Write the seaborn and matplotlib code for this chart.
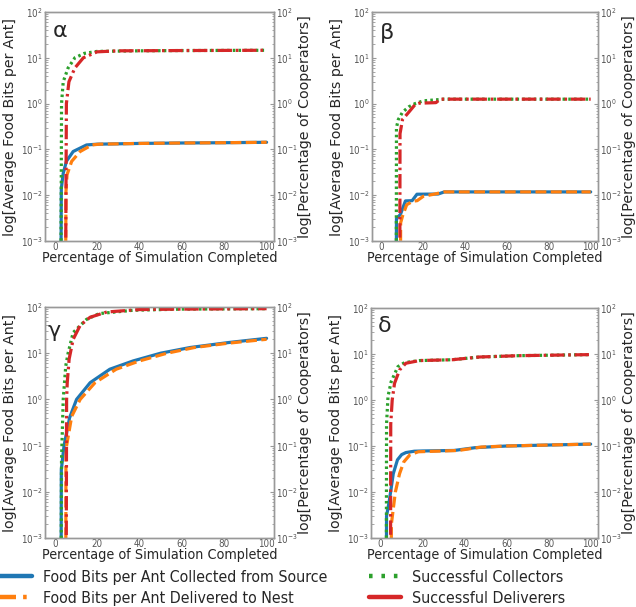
import matplotlib
matplotlib.use("Agg")
import matplotlib.pyplot as plt
from matplotlib.lines import Line2D
import seaborn as sns
import pandas as pd

# ---------------- data ----------------
panel_labels = ["α", "β", "γ", "δ"]
series_names = ["Food Bits per Ant Collected from Source",
                "Food Bits per Ant Delivered to Nest",
                "Successful Collectors",
                "Successful Deliverers"]

# alpha
a_col_x = [2.9, 3.1, 4.0, 5.5, 8.7, 15, 20, 40, 60, 80, 100]
a_col_y = [1e-4, 0.014, 0.03, 0.055, 0.09, 0.125, 0.13, 0.135, 0.138, 0.14, 0.143]
a_del_x = [5.1, 5.3, 5.8, 8, 12, 17.5, 21, 40, 60, 80, 100]
a_del_y = [1e-4, 0.012, 0.028, 0.055, 0.09, 0.125, 0.13, 0.135, 0.138, 0.14, 0.143]
a_sc_x = [2.9, 3.2, 4.0, 6.3, 9.5, 14, 20, 40, 60, 80, 100]
a_sc_y = [1e-4, 1.0, 3.0, 6.0, 10, 12.5, 13.8, 14.2, 14.4, 14.5, 14.6]
a_sd_x = [5.1, 5.5, 6.7, 9.5, 13.5, 20, 30, 60, 100]
a_sd_y = [1e-4, 1.0, 3.0, 6.0, 10, 13.5, 14.2, 14.4, 14.6]

# beta
b_col_x = [7.0, 7.1, 9.0, 11.4, 14.6, 16.9, 27, 30, 60, 100]
b_col_y = [1e-4, 0.0031, 0.0038, 0.0075, 0.0076, 0.0105, 0.0106, 0.0118, 0.0118, 0.0118]
b_del_x = [9.0, 9.1, 10.0, 12.0, 15.0, 17.0, 20.0, 25.0, 30, 60, 100]
b_del_y = [1e-4, 0.0025, 0.0035, 0.0062, 0.0074, 0.0076, 0.0095, 0.0105, 0.0118, 0.0118, 0.0118]
b_sc_x = [7.0, 7.1, 8.0, 10.0, 13.0, 16.0, 20.0, 30, 60, 100]
b_sc_y = [1e-4, 0.3, 0.45, 0.65, 0.85, 1.0, 1.15, 1.25, 1.25, 1.25]
b_sd_x = [8.7, 8.8, 10.0, 13.0, 16.0, 18.0, 26.0, 28.0, 60, 100]
b_sd_y = [1e-4, 0.22, 0.45, 0.65, 0.95, 1.02, 1.05, 1.25, 1.25, 1.25]

# gamma
g_col_x = [3.0, 3.1, 4.4, 7.0, 10.3, 16.7, 26, 37, 50, 64, 82, 100]
g_col_y = [1e-4, 0.03, 0.1, 0.4, 1.0, 2.3, 4.5, 6.8, 10, 13.3, 17, 21]
g_del_x = [5.2, 5.3, 5.6, 8.0, 12.0, 19.0, 29, 40, 53, 66, 82, 100]
g_del_y = [1e-4, 0.057, 0.1, 0.43, 1.0, 2.3, 4.5, 6.8, 10, 13.3, 16.5, 20]
g_sc_x = [3.0, 3.2, 4.0, 5.2, 6.3, 8.7, 15, 21, 37, 60, 100]
g_sc_y = [1e-4, 0.05, 1.0, 5.3, 10, 28, 54, 72, 85, 90, 92]
g_sd_x = [5.4, 5.6, 5.9, 6.8, 8.7, 12, 16.7, 24.6, 40, 60, 100]
g_sd_y = [1e-4, 1.0, 2.3, 7.5, 20, 40, 60, 78, 88, 90, 92]

# delta
d_col_x = [2.7, 2.8, 4.0, 5.0, 6.0, 8.0, 10, 12, 16, 20, 35, 45, 60, 80, 100]
d_col_y = [1e-4, 0.003, 0.006, 0.012, 0.025, 0.05, 0.065, 0.072, 0.077, 0.078, 0.08, 0.092, 0.1, 0.105, 0.11]
d_del_x = [5.0, 5.1, 7.0, 9.0, 11, 14, 18, 30, 37, 48, 60, 80, 100]
d_del_y = [1e-4, 0.002, 0.01, 0.025, 0.045, 0.065, 0.075, 0.078, 0.08, 0.095, 0.1, 0.105, 0.11]
d_sc_x = [2.7, 2.8, 3.5, 5.0, 8.2, 11.4, 18.5, 34, 47, 66, 100]
d_sc_y = [1e-4, 0.3, 1.2, 2.5, 5.3, 6.5, 7.2, 7.5, 8.6, 9.2, 9.7]
d_sd_x = [4.7, 4.8, 5.5, 6.6, 9.0, 12, 18.5, 34, 47, 66, 100]
d_sd_y = [1e-4, 0.3, 1.0, 2.3, 4.5, 6.3, 7.2, 7.5, 8.6, 9.2, 9.7]

x_ticks = [0, 20, 40, 60, 80, 100]

panels = [
    (a_col_x, a_col_y, a_del_x, a_del_y, a_sc_x, a_sc_y, a_sd_x, a_sd_y),
    (b_col_x, b_col_y, b_del_x, b_del_y, b_sc_x, b_sc_y, b_sd_x, b_sd_y),
    (g_col_x, g_col_y, g_del_x, g_del_y, g_sc_x, g_sc_y, g_sd_x, g_sd_y),
    (d_col_x, d_col_y, d_del_x, d_del_y, d_sc_x, d_sc_y, d_sd_x, d_sd_y),
]

# ---------------- styling ----------------
sns.set_style("white")
plt.rcParams["font.family"] = ["DejaVu Sans"]
plt.rcParams["font.stretch"] = "condensed"
plt.rcParams["mathtext.fontset"] = "dejavusans"

C_BLUE, C_ORANGE, C_GREEN, C_RED = "#1f77b4", "#ff7f0e", "#2ca02c", "#d62728"
SPINE = "#999999"
TICKC = "#555555"
LW = 2.3
LABEL_FS = 10.3

fig = plt.figure(figsize=(6.36, 6.07), dpi=100)

W, H = 636, 607
boxes = [(45, 12, 274, 241), (372, 12, 598, 241),
         (45, 307, 274, 538), (371, 308, 598, 538)]
label_pos = [(0.035, 0.915), (0.035, 0.91), (0.01, 0.895), (0.03, 0.92)]

for i, (box, data) in enumerate(zip(boxes, panels)):
    l, t, r, b = box
    ax = fig.add_axes([l / W, 1 - b / H, (r - l) / W, (b - t) / H])
    ax2 = ax.twinx()
    cx, cy, dx, dy, scx, scy, sdx, sdy = data

    sns.lineplot(x=cx, y=cy, ax=ax, color=C_BLUE, lw=LW, sort=False, estimator=None)
    sns.lineplot(x=dx, y=dy, ax=ax, color=C_ORANGE, lw=LW, sort=False, estimator=None,
                 linestyle=(0, (3.4, 1.4)))
    sns.lineplot(x=scx, y=scy, ax=ax2, color=C_GREEN, lw=LW, sort=False, estimator=None,
                 linestyle=(0, (0.8, 1.0)))
    sns.lineplot(x=sdx, y=sdy, ax=ax2, color=C_RED, lw=LW, sort=False, estimator=None,
                 linestyle=(0, (4.5, 1.2, 0.8, 1.2)))

    for a in (ax, ax2):
        a.set_yscale("log")
        a.set_ylim(1e-3, 1e2)
        a.set_xlim(-4.6, 103.5)
        for s in a.spines.values():
            s.set_color(SPINE)
            s.set_linewidth(1.0)
        a.tick_params(axis="both", which="both", direction="in", colors=SPINE,
                      labelcolor=TICKC, labelsize=7, length=3, pad=1.5)
        a.tick_params(axis="y", which="minor", length=1.8)
    ax.set_xticks(x_ticks)
    ax.set_xticklabels([str(v) for v in x_ticks])
    ax.tick_params(axis="x", pad=1)

    ax.set_xlabel("Percentage of Simulation Completed", fontsize=LABEL_FS, labelpad=-1)
    ax.set_ylabel("log[Average Food Bits per Ant]", fontsize=LABEL_FS, labelpad=3,
                  fontstretch="normal")
    ax2.set_ylabel("log[Percentage of Cooperators]", fontsize=LABEL_FS, labelpad=0,
                   fontstretch="normal")
    ax.text(label_pos[i][0], label_pos[i][1], panel_labels[i], transform=ax.transAxes,
            fontsize=16, ha="left", va="center", fontstretch="normal")

handles = [
    Line2D([], [], color=C_BLUE, lw=3.2),
    Line2D([], [], color=C_ORANGE, lw=3.2, linestyle=(0, (3.6, 1.6, 0.8, 1.6))),
    Line2D([], [], color=C_GREEN, lw=3.2, linestyle=(0, (0.8, 2.0))),
    Line2D([], [], color=C_RED, lw=3.2),
]
fig.legend(handles, series_names, loc="upper left", bbox_to_anchor=(0 / W, 1 - 570 / H),
           ncol=2, frameon=False, prop={"size": 11.4, "stretch": "condensed"},
           handlelength=2.0, handletextpad=0.7,
           columnspacing=2.65, labelspacing=0.35, borderpad=0, borderaxespad=0)

fig.savefig("out.png", dpi=100)
